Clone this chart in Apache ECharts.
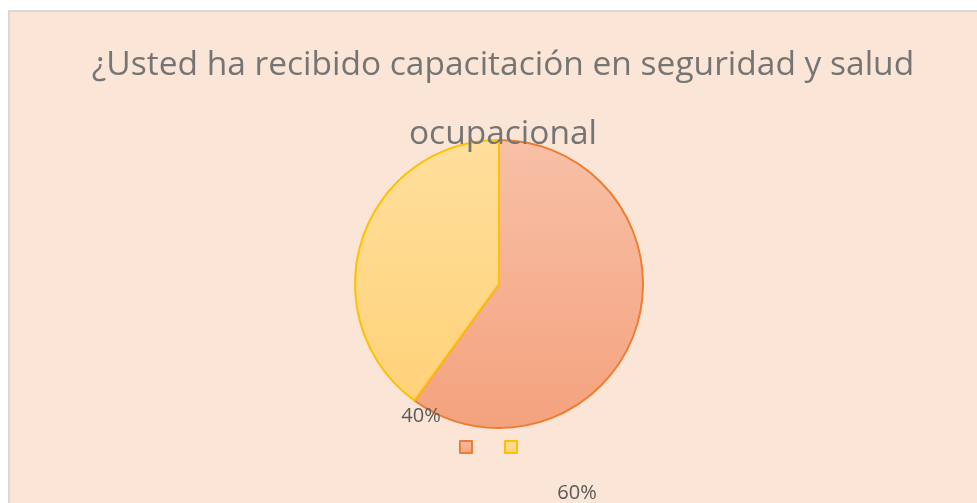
<!DOCTYPE html>
<html>
<head>
<meta charset="utf-8">
<script src="https://cdn.jsdelivr.net/npm/echarts@6/dist/echarts.min.js"></script>
<style>
  html, body { margin: 0; padding: 0; background: #ffffff; }
  #frame { position: absolute; left: 8px; top: 10px; width: 975px; height: 500px;
           background: #FBE5D6; border-left: 2px solid #D9D9D9; border-top: 2px solid #D9D9D9; }
  #chart { position: absolute; left: -10px; top: -12px; width: 977px; height: 503px; }
</style>
</head>
<body>
<div id="frame"><div id="chart"></div></div>
<script>
// datos del gráfico
var categorias = ['Sí', 'No'];
var valores = [60, 40];
var etiquetas = ['60%', '40%'];
// posiciones de las etiquetas (como en el original de Excel)
var labelPos = [[577, 493], [421, 416]];

window.onload = function () {
    var chart = echarts.init(document.getElementById('chart'));
    var colores = [
        { fill: ['#F8C0A6', '#F4A27E'], border: '#ED7D31' },
        { fill: ['#FFDF9C', '#FFD27A'], border: '#FFC000' }
    ];
    var datos = [];
    for (let i = 0; i < categorias.length; i++) {
        datos.push({
            name: categorias[i],
            value: valores[i],
            itemStyle: {
                color: new echarts.graphic.LinearGradient(0, 0, 0, 1, [
                    { offset: 0, color: colores[i].fill[0] },
                    { offset: 1, color: colores[i].fill[1] }
                ]),
                borderColor: colores[i].border,
                borderWidth: 2
            }
        });
    }
    var option = {
        animation: false,
        title: {
            text: '¿Usted ha recibido capacitación en seguridad y salud\nocupacional',
            left: 498,
            textAlign: 'center',
            top: 26,
            textStyle: {
                fontFamily: 'Open Sans',
                fontSize: 33.5,
                fontWeight: 'normal',
                color: '#757575',
                lineHeight: 69
            }
        },
        legend: {
            bottom: 44,
            left: 'center',
            itemWidth: 12,
            itemHeight: 12,
            itemGap: 31,
            icon: 'rect',
            data: categorias,
            formatter: function () { return ''; }
        },
        series: [{
            type: 'pie',
            center: [499, 284],
            radius: 144,
            startAngle: 90,
            clockwise: true,
            data: datos,
            label: {
                show: true,
                formatter: function (p) { return etiquetas[p.dataIndex]; },
                fontFamily: 'Open Sans',
                fontSize: 20,
                color: '#595959'
            },
            labelLine: { show: false },
            labelLayout: function (p) {
                var pos = labelPos[p.dataIndex];
                return { x: pos[0], y: pos[1], align: 'center', verticalAlign: 'middle' };
            },
            emphasis: { disabled: true }
        }]
    };
    chart.setOption(option);
};
</script>
</body>
</html>
